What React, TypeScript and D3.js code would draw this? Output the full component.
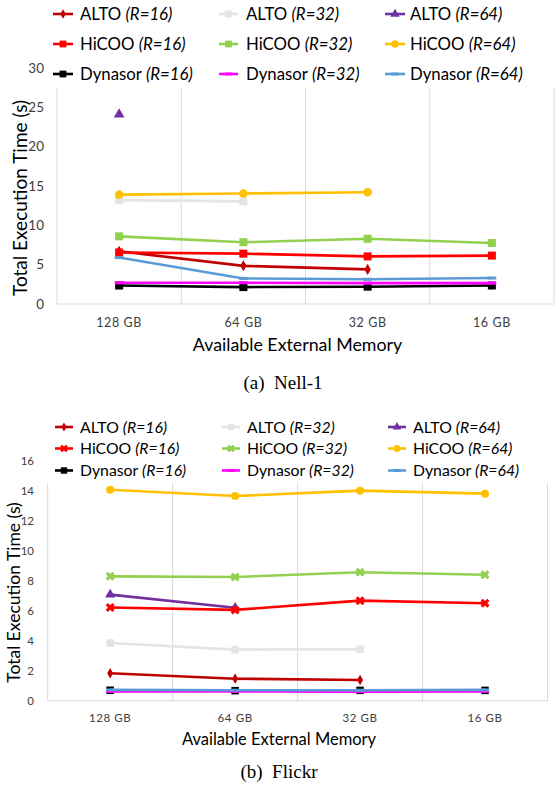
import React from "react";
import * as d3 from "d3";

const categories = ["128 GB", "64 GB", "32 GB", "16 GB"];

const seriesNames = [
  "ALTO|(R=16)", "ALTO|(R=32)", "ALTO|(R=64)",
  "HiCOO|(R=16)", "HiCOO|(R=32)", "HiCOO|(R=64)",
  "Dynasor|(R=16)", "Dynasor|(R=32)", "Dynasor|(R=64)",
];
const seriesColors = [
  "#C00000", "#E4E4E4", "#7030A0",
  "#FF0000", "#92D050", "#FFC000",
  "#000000", "#FF00FF", "#5B9BD5",
];

type V = number | null;

// Nell-1
const nellAlto16: V[] = [6.7, 4.85, 4.4, null];
const nellAlto32: V[] = [13.2, 13.05, null, null];
const nellAlto64: V[] = [24.1, null, null, null];
const nellHicoo16: V[] = [6.55, 6.4, 6.05, 6.15];
const nellHicoo32: V[] = [8.6, 7.85, 8.3, 7.75];
const nellHicoo64: V[] = [13.9, 14.05, 14.2, null];
const nellDyn16: V[] = [2.35, 2.15, 2.2, 2.35];
const nellDyn32: V[] = [2.7, 2.7, 2.65, 2.65];
const nellDyn64: V[] = [5.9, 3.25, 3.15, 3.3];
const nellTicks = [0, 5, 10, 15, 20, 25, 30];

// Flickr
const flAlto16: V[] = [1.83, 1.47, 1.38, null];
const flAlto32: V[] = [3.85, 3.41, 3.43, null];
const flAlto64: V[] = [7.08, 6.2, null, null];
const flHicoo16: V[] = [6.22, 6.06, 6.68, 6.5];
const flHicoo32: V[] = [8.3, 8.26, 8.57, 8.41];
const flHicoo64: V[] = [14.08, 13.66, 14.02, 13.82];
const flDyn16: V[] = [0.7, 0.67, 0.69, 0.69];
const flDyn32: V[] = [0.62, 0.62, 0.6, 0.62];
const flDyn64: V[] = [0.72, 0.7, 0.7, 0.72];
const flickrTicks = [0, 2, 4, 6, 8, 10, 12, 14, 16];

const FONT = "Lato, 'Open Sans', sans-serif";

type Marker = "diamond" | "square" | "triangle" | "circle" | "x" | "dash";

function MarkerShape({ type, color, x, y, s }: { type: Marker; color: string; x: number; y: number; s: number }) {
  if (type === "dash") {
    return <rect x={x - s * 0.55} y={y - 1.5} width={s * 1.1} height={3} fill={color} />;
  }
  if (type === "x") {
    const p = d3.symbol().type(d3.symbolCross).size(s * s * 0.9)();
    return <path d={p || ""} transform={`translate(${x},${y}) rotate(45)`} fill={color} />;
  }
  if (type === "square") {
    return <rect x={x - s / 2} y={y - s / 2} width={s} height={s} fill={color} />;
  }
  const t = type === "diamond" ? d3.symbolDiamond : type === "triangle" ? d3.symbolTriangle : d3.symbolCircle;
  const size = type === "circle" ? s * s * 0.9 : type === "diamond" ? s * s * 0.55 : s * s * 0.8;
  const p = d3.symbol().type(t).size(size)();
  return <path d={p || ""} transform={`translate(${x},${y})`} fill={color} />;
}

type ChartCfg = {
  data: V[][];
  markers: Marker[];
  ticks: number[];
  ymax: number;
  plot: { x0: number; x1: number; y0: number; y1: number };
  legendRows: number[];
  legendCols: { m0: number; m1: number; t: number }[];
  legendFont: number;
  legendBox: { y0: number; y1: number };
  tickFont: number;
  tickX: number;
  xTickY: number;
  xTickFont: number;
  xTitle: { x: number; y: number; size: number };
  yTitle: { x: number; y: number; size: number };
  caption: { text: string; x: number; y: number };
  markerSize: number;
};

function Chart({ cfg }: { cfg: ChartCfg }) {
  const { plot } = cfg;
  const x = d3.scaleBand<string>().domain(categories).range([plot.x0, plot.x1]);
  const y = d3.scaleLinear().domain([0, cfg.ymax]).range([plot.y0, plot.y1]);
  const line = d3
    .line<V>()
    .defined((d) => d != null)
    .x((_, i) => (x(categories[i]) as number) + x.bandwidth() / 2)
    .y((d) => y(d as number));
  const gridX = categories.slice(1).map((c) => x(c) as number);
  return (
    <g>
      <rect x={plot.x0} y={plot.y1} width={plot.x1 - plot.x0} height={plot.y0 - plot.y1} fill="none" stroke="#D9D9D9" strokeWidth={1} />
      {gridX.map((gx, i) => (
        <line key={i} x1={gx} x2={gx} y1={plot.y1} y2={plot.y0} stroke="#D9D9D9" strokeWidth={1} />
      ))}
      {cfg.ticks.map((t) => (
        <text key={t} x={cfg.tickX} y={y(t)} dy="0.35em" textAnchor="end" fontFamily={FONT} fontSize={cfg.tickFont} fill="#404040">
          {t}
        </text>
      ))}
      {categories.map((c) => (
        <text key={c} x={(x(c) as number) + x.bandwidth() / 2} y={cfg.xTickY} dy="0.35em" textAnchor="middle" fontFamily={FONT} fontSize={cfg.xTickFont} fill="#404040" letterSpacing={0.6}>
          {c}
        </text>
      ))}
      {cfg.data.map((vals, si) => (
        <g key={si}>
          <path d={line(vals) || ""} fill="none" stroke={seriesColors[si]} strokeWidth={2.6} strokeLinejoin="round" />
          {vals.map((v, i) =>
            v == null ? null : (
              <MarkerShape key={i} type={cfg.markers[si]} color={seriesColors[si]} x={(x(categories[i]) as number) + x.bandwidth() / 2} y={y(v)} s={cfg.markerSize} />
            )
          )}
        </g>
      ))}
      <rect x={plot.x0 - 6} y={cfg.legendBox.y0} width={558 - plot.x0 + 6} height={cfg.legendBox.y1 - cfg.legendBox.y0} fill="#fff" />
      {seriesNames.map((name, si) => {
        const row = Math.floor(si / 3);
        const col = si % 3;
        const ly = cfg.legendRows[row];
        const lc = cfg.legendCols[col];
        const [a, b] = name.split("|");
        return (
          <g key={si}>
            <line x1={lc.m0} x2={lc.m1} y1={ly} y2={ly} stroke={seriesColors[si]} strokeWidth={2.6} />
            <MarkerShape type={cfg.markers[si]} color={seriesColors[si]} x={(lc.m0 + lc.m1) / 2} y={ly} s={cfg.markerSize * 0.85} />
            <text x={lc.t} y={ly} dy="0.35em" fontFamily={FONT} fontSize={cfg.legendFont} fill="#000">
              {a + " "}
              <tspan fontStyle="italic">{b}</tspan>
            </text>
          </g>
        );
      })}
      <text x={cfg.xTitle.x} y={cfg.xTitle.y} dy="0.35em" textAnchor="middle" fontFamily={FONT} fontSize={cfg.xTitle.size} fill="#000">
        Available External Memory
      </text>
      <text transform={`translate(${cfg.yTitle.x},${cfg.yTitle.y}) rotate(-90)`} dy="0.35em" textAnchor="middle" fontFamily={FONT} fontSize={cfg.yTitle.size} fill="#000">
        Total Execution Time (s)
      </text>
      <text x={cfg.caption.x} y={cfg.caption.y} dy="0.35em" textAnchor="middle" fontFamily="'Liberation Serif', 'Times New Roman', serif" fontSize={19} fill="#000" style={{ whiteSpace: "pre" }}>
        {cfg.caption.text}
      </text>
    </g>
  );
}

const topCfg: ChartCfg = {
  data: [nellAlto16, nellAlto32, nellAlto64, nellHicoo16, nellHicoo32, nellHicoo64, nellDyn16, nellDyn32, nellDyn64],
  markers: ["diamond", "square", "triangle", "square", "square", "circle", "square", "dash", "dash"],
  ticks: nellTicks,
  ymax: 30,
  plot: { x0: 57, x1: 554, y0: 304, y1: 68 },
  legendRows: [14, 44, 74],
  legendCols: [
    { m0: 53, m1: 73, t: 80 },
    { m0: 219, m1: 238, t: 246 },
    { m0: 385, m1: 405, t: 410 },
  ],
  legendFont: 16.8,
  legendBox: { y0: 0, y1: 88 },
  tickFont: 13.5,
  tickX: 44,
  xTickY: 323,
  xTickFont: 12.5,
  xTitle: { x: 297.5, y: 345, size: 17.8 },
  yTitle: { x: 20, y: 198, size: 19 },
  caption: { text: "(a)\u00A0 Nell-1", x: 283, y: 382 },
  markerSize: 8,
};

const botCfg: ChartCfg = {
  data: [flAlto16, flAlto32, flAlto64, flHicoo16, flHicoo32, flHicoo64, flDyn16, flDyn32, flDyn64],
  markers: ["diamond", "square", "triangle", "x", "x", "circle", "square", "dash", "dash"],
  ticks: flickrTicks,
  ymax: 16,
  plot: { x0: 47.7, x1: 547.5, y0: 700.7, y1: 461 },
  legendRows: [427, 448.5, 470.5],
  legendCols: [
    { m0: 55, m1: 73, t: 80 },
    { m0: 222, m1: 240, t: 247 },
    { m0: 388, m1: 406, t: 413 },
  ],
  legendFont: 15.8,
  legendBox: { y0: 410, y1: 483 },
  tickFont: 11.5,
  tickX: 34,
  xTickY: 718,
  xTickFont: 11.5,
  xTitle: { x: 279, y: 739, size: 16.5 },
  yTitle: { x: 13.5, y: 592.5, size: 17.5 },
  caption: { text: "(b)\u00A0 Flickr", x: 279, y: 771.7 },
  markerSize: 7.5,
};

export default function App() {
  return (
    <svg width={558} height={785} style={{ position: "absolute", left: 0, top: 0, background: "#fff" }}>
      <rect width={558} height={785} fill="#fff" />
      <Chart cfg={topCfg} />
      <Chart cfg={botCfg} />
    </svg>
  );
}
